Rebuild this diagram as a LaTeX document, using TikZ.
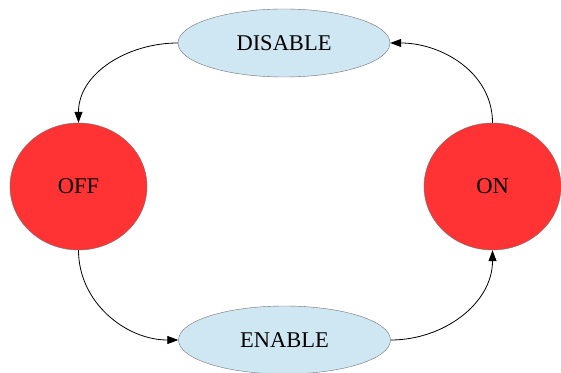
\documentclass[tikz,border=0pt]{standalone}
\usepackage{fontspec}
\setmainfont{Liberation Serif}
\usepackage{tikz}
\usetikzlibrary{shapes.geometric,arrows.meta}
\definecolor{statered}{RGB}{255,51,51}
\definecolor{actblue}{RGB}{207,230,243}
\definecolor{rim}{RGB}{115,115,115}
\tikzset{
	state/.style={ellipse,draw=rim,fill=statered,minimum width=137pt,minimum height=127pt,inner sep=0pt,font=\fontsize{22.5}{26}\selectfont},
	act/.style={ellipse,draw=rim,fill=actblue,minimum width=212pt,minimum height=68pt,inner sep=0pt,font=\fontsize{22.5}{26}\selectfont},
	go/.style={-{Triangle[length=11pt,width=8pt]},line width=0.8pt}
}

\begin{document}
\begin{tikzpicture}[x=1pt,y=1pt]
	\useasboundingbox (0,0) rectangle (561,372);
					\node [act] (disable) at (284,329) {DISABLE};
					\node [state] (off) at (78.5,185.5) {OFF};
					\node [state] (on) at (492.5,185.5) {ON};
					\node [act] (enable) at (284.5,32) {ENABLE};

					\draw [go] (disable) to[out=180,in=90] (off);
					\draw [go] (off) to[out=270,in=180] (enable);
					\draw [go] (enable) to[out=0,in=270] (on);
					\draw [go] (on) to[out=90,in=0] (disable);
				\end{tikzpicture}
\end{document}
